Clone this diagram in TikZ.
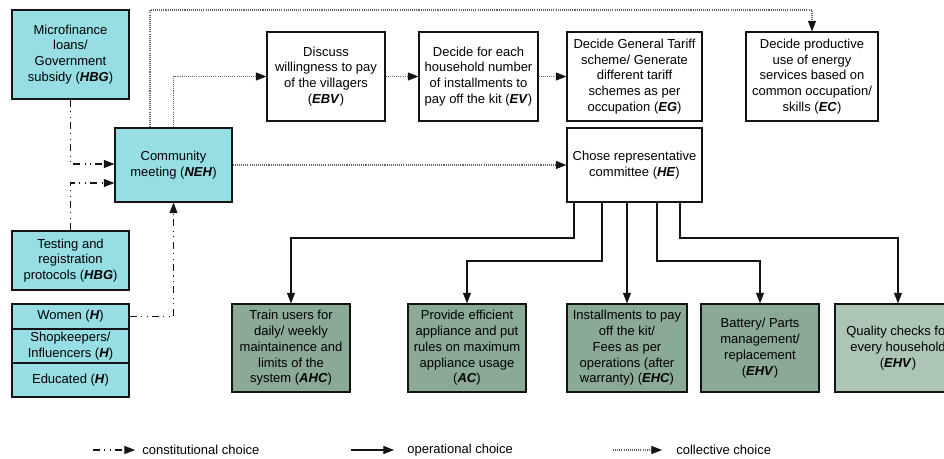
\documentclass[tikz,border=0pt]{standalone}
\usepackage{fontspec}
\setmainfont{Liberation Sans}
\usetikzlibrary{arrows.meta,calc}
\definecolor{cyanfill}{RGB}{150,222,228}
\definecolor{greenfill}{RGB}{138,170,150}
\definecolor{lightgreen}{RGB}{172,197,181}
\definecolor{inkline}{RGB}{20,20,20}
\newcommand{\cd}[1]{\textbf{\textit{#1}}}
\tikzset{
  basebox/.style={draw=inkline, line width=0.75pt, inner sep=1pt, align=center,
    text=black, font=\fontsize{7.4}{9}\selectfont},
  cyanbox/.style={basebox, fill=cyanfill},
  whitebox/.style={basebox, fill=white},
  greenbox/.style={basebox, fill=greenfill},
  palebox/.style={basebox, fill=lightgreen},
  tip/.style={-{Triangle[length=6pt,width=4.6pt,color=inkline,fill=inkline,line width=0.4pt]}},
  opline/.style={tip, draw=inkline, line width=0.6pt},
  collline/.style={tip, draw=black!60, line width=0.6pt, dash pattern=on 0.6pt off 0.6pt},
  constline/.style={tip, draw=inkline, line width=0.7pt,
    dash pattern=on 4pt off 2.5pt on 0.6pt off 2.5pt on 0.6pt off 2.5pt},
  legendtext/.style={anchor=west, inner sep=0pt, font=\fontsize{7.4}{9}\selectfont}
}
\begin{document}
\begin{tikzpicture}[x=0.02cm, y=-0.02cm]
\useasboundingbox (0,0) rectangle (944,459);

% left column: funding, meeting, protocols, groups
\node[cyanbox, minimum width=2.34cm, minimum height=1.78cm] (mf) at (70.5,54.5)
  {Microfinance\\loans/\\Government\\subsidy (\cd{HBG})};
\node[cyanbox, minimum width=2.34cm, minimum height=1.48cm] (neh) at (173.5,165)
  {Community\\meeting (\cd{NEH})};
\node[cyanbox, minimum width=2.34cm, minimum height=1.18cm] (test) at (70.5,260.5)
  {Testing and\\registration\\protocols (\cd{HBG})};
\node[cyanbox, minimum width=2.34cm, minimum height=0.5cm] (women) at (70.5,316.5)
  {Women (\cd{H})};
\node[cyanbox, minimum width=2.34cm, minimum height=0.68cm] (shop) at (70.5,346)
  {Shopkeepers/\\Influencers (\cd{H})};
\node[cyanbox, minimum width=2.34cm, minimum height=0.68cm] (educ) at (70.5,380)
  {Educated (\cd{H})};

% collective decisions
\node[whitebox, minimum width=2.36cm, minimum height=1.78cm] (ebv) at (326,76.5)
  {Discuss\\willingness to pay\\of the villagers\\(\cd{EBV})};
\node[whitebox, minimum width=2.38cm, minimum height=1.78cm] (ev) at (478.5,76.5)
  {Decide for each\\household number\\of installments to\\pay off the kit (\cd{EV})};
\node[whitebox, minimum width=2.7cm, minimum height=1.78cm] (eg) at (634.5,76.5)
  {Decide General Tariff\\scheme/ Generate\\different tariff\\schemes as per\\occupation (\cd{EG})};
\node[whitebox, minimum width=2.64cm, minimum height=1.78cm] (ec) at (812,76.5)
  {Decide productive\\use of energy\\services based on\\common occupation/\\skills (\cd{EC})};
\node[whitebox, minimum width=2.7cm, minimum height=1.48cm] (he) at (634.5,165)
  {Chose representative\\committee (\cd{HE})};

% operational tasks
\node[greenbox, minimum width=2.36cm, minimum height=1.76cm] (ahc) at (291,348)
  {Train users for\\daily/ weekly\\maintainence and\\limits of the\\system (\cd{AHC})};
\node[greenbox, minimum width=2.36cm, minimum height=1.76cm] (ac) at (467,348)
  {Provide efficient\\appliance and put\\rules on maximum\\appliance usage\\(\cd{AC})};
\node[greenbox, minimum width=2.4cm, minimum height=1.76cm] (ehc) at (627,348)
  {Installments to pay\\off the kit/\\Fees as per\\operations (after\\warranty) (\cd{EHC})};
\node[greenbox, minimum width=2.36cm, minimum height=1.76cm] (ehv) at (760,348)
  {Battery/ Parts\\management/\\replacement\\(\cd{EHV})};
\node[palebox, minimum width=2.52cm, minimum height=1.76cm] (qc) at (898,348)
  {Quality checks for\\every household\\(\cd{EHV})};

% constitutional links
\coordinate (mfbend) at (70.5,164);
\coordinate (testbend) at (70.5,183);
\draw[constline] (mf.south) -- (mfbend) -- (mfbend -| neh.west);
\draw[constline] (test.north) -- (testbend) -- (testbend -| neh.west);
\draw[constline] (women.east) -| (neh.south);

% collective links
\coordinate (topleft) at (150,10);
\draw[collline] (topleft |- neh.north) -- (topleft) -| (ec.north);
\draw[collline] (neh.north) |- (ebv.west);
\draw[collline] (ebv.east) -- (ev.west);
\draw[collline] (ev.east) -- (eg.west);
\draw[collline] (neh.east) -- (he.west);

% operational links from the committee
\coordinate (b1) at (574,238);
\coordinate (b2) at (602,261);
\coordinate (b4) at (657,261);
\coordinate (b5) at (680,238);
\draw[opline] (b1 |- he.south) -- (b1) -| (ahc.north);
\draw[opline] (b2 |- he.south) -- (b2) -| (ac.north);
\draw[opline] (ehc.north |- he.south) -- (ehc.north);
\draw[opline] (b4 |- he.south) -- (b4) -| (ehv.north);
\draw[opline] (b5 |- he.south) -- (b5) -| (qc.north);

% legend
\coordinate (l1a) at (93,450);  \coordinate (l1b) at (135,450);
\coordinate (l2a) at (351,450); \coordinate (l2b) at (394,450);
\coordinate (l3a) at (613,450); \coordinate (l3b) at (662,450);
\draw[constline] (l1a) -- (l1b);
\draw[opline] (l2a) -- (l2b);
\draw[collline] (l3a) -- (l3b);
\node[legendtext] (t1) at (142,450) {constitutional choice};
\node[legendtext] (t2) at (407,450) {operational choice};
\node[legendtext] (t3) at (676,450) {collective choice};
\end{tikzpicture}
\end{document}
